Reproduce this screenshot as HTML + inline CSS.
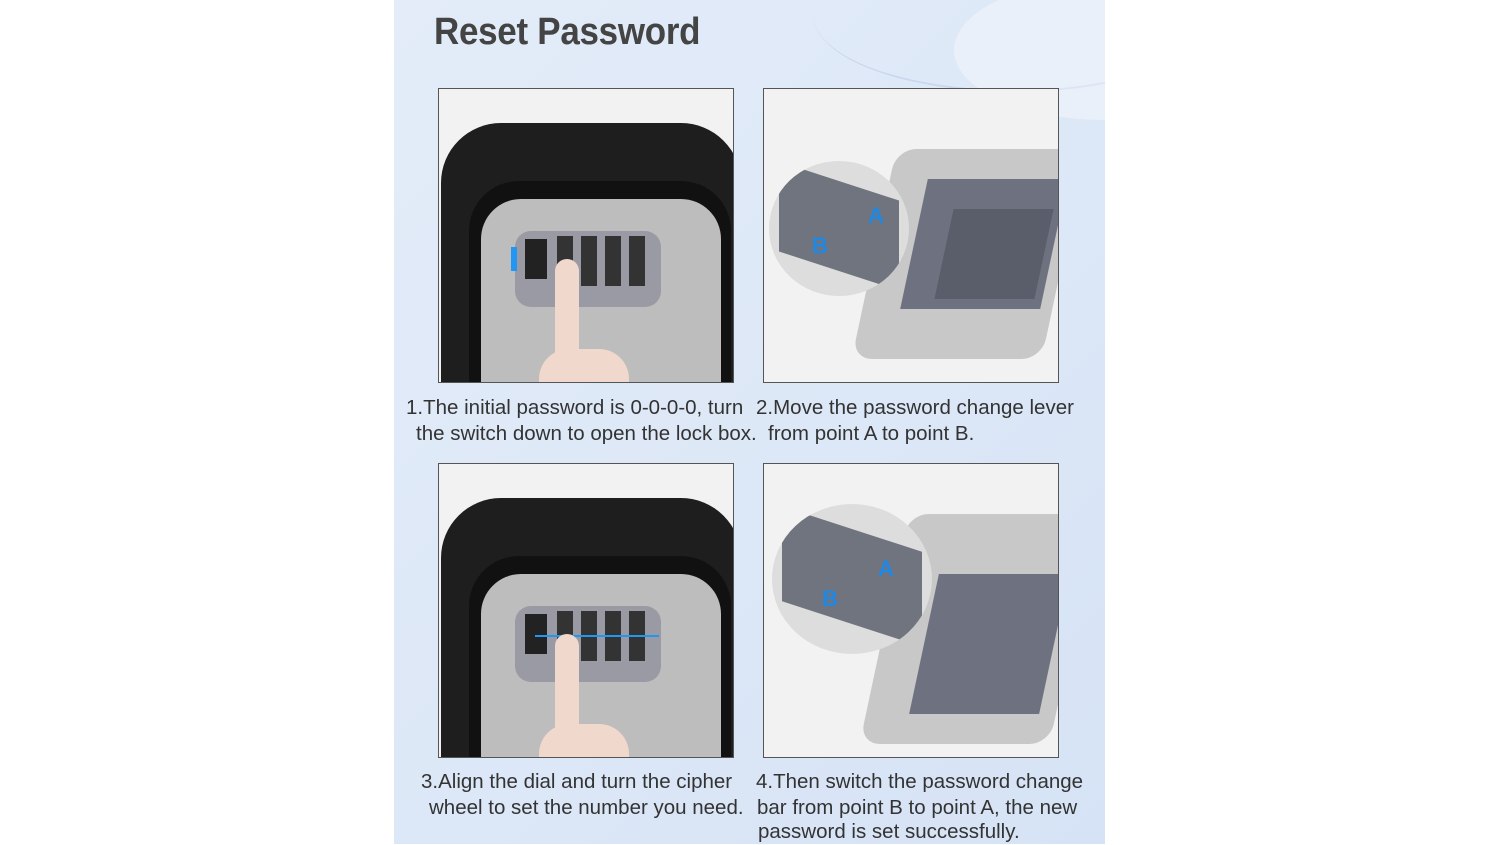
<!DOCTYPE html>
<html><head><style>
body{margin:0;width:1500px;height:844px;background:#fff;position:relative;overflow:hidden;font-family:"Liberation Sans",sans-serif}
.panel{position:absolute;left:394px;top:0;width:711px;height:844px;background:linear-gradient(135deg,#e3ecf8 0%,#dde8f7 50%,#d6e3f6 100%);overflow:hidden}
h1{position:absolute;left:434px;top:11px;margin:0;font-size:38px;font-weight:bold;color:#444;letter-spacing:-0.3px;transform:scaleX(0.92);transform-origin:left;white-space:nowrap}
.ph{position:absolute;width:294px;height:293px;border:1px solid #555;background:#f2f2f2;overflow:hidden}
.cap{position:absolute;font-size:20.5px;color:#333;line-height:26px;white-space:nowrap}
.a{position:absolute}
</style></head><body>
<div class="panel">
<div class="a" style="left:420px;top:-60px;width:400px;height:150px;border-radius:50%;border-bottom:2px solid #c9d8ee;"></div>
<div class="a" style="left:560px;top:-20px;width:300px;height:140px;border-radius:50%;background:rgba(255,255,255,.35)"></div>
</div>
<h1>Reset Password</h1>

<!-- photo 1 -->
<div class="ph" style="left:438px;top:88px">
 <div class="a" style="left:2px;top:34px;width:300px;height:300px;background:#1e1e1e;border-radius:60px 60px 0 0"></div>
 <div class="a" style="left:30px;top:92px;width:262px;height:260px;background:#111;border-radius:50px 50px 0 0"></div>
 <div class="a" style="left:42px;top:110px;width:240px;height:250px;background:#bdbdbd;border-radius:40px 40px 0 0"></div>
 <div class="a" style="left:76px;top:142px;width:146px;height:76px;background:#9a9aa5;border-radius:16px"></div>
 <div class="a" style="left:86px;top:150px;width:22px;height:40px;background:#222"></div>
 <div class="a" style="left:118px;top:147px;width:16px;height:50px;background:#333"></div>
 <div class="a" style="left:142px;top:147px;width:16px;height:50px;background:#333"></div>
 <div class="a" style="left:166px;top:147px;width:16px;height:50px;background:#333"></div>
 <div class="a" style="left:190px;top:147px;width:16px;height:50px;background:#333"></div>
 <div class="a" style="left:72px;top:158px;width:6px;height:24px;background:#2196f3"></div>
 <div class="a" style="left:116px;top:170px;width:24px;height:140px;background:#f1d8cc;border-radius:12px 12px 0 0"></div>
 <div class="a" style="left:100px;top:260px;width:90px;height:40px;background:#f1d8cc;border-radius:30px 30px 0 0"></div>
</div>
<!-- photo 2 -->
<div class="ph" style="left:763px;top:88px">
 <div class="a" style="left:110px;top:60px;width:190px;height:210px;background:#c8c8c8;border-radius:20px;transform:skewX(-12deg)"></div>
 <div class="a" style="left:150px;top:90px;width:140px;height:130px;background:#6e7280;transform:skewX(-12deg)"></div>
 <div class="a" style="left:180px;top:120px;width:100px;height:90px;background:#5a5e6a;transform:skewX(-12deg)"></div>
 <div class="a" style="left:5px;top:72px;width:140px;height:135px;border-radius:50%;background:#ddd;overflow:hidden">
  <div class="a" style="left:10px;top:20px;width:120px;height:90px;background:#70747f;transform:skewY(18deg)"></div>
 </div>
 <div class="a" style="left:104px;top:114px;font-size:22px;color:#1e88e5;font-weight:bold">A</div>
 <div class="a" style="left:48px;top:144px;font-size:22px;color:#1e88e5;font-weight:bold">B</div>
</div>
<div class="cap" style="left:406px;top:395px">1.The initial password is 0-0-0-0, turn</div>
<div class="cap" style="left:416px;top:421px">the switch down to open the lock box.</div>
<div class="cap" style="left:756px;top:395px">2.Move the password change lever</div>
<div class="cap" style="left:768px;top:421px">from point A to point B.</div>

<!-- photo 3 -->
<div class="ph" style="left:438px;top:463px">
 <div class="a" style="left:2px;top:34px;width:300px;height:300px;background:#1e1e1e;border-radius:60px 60px 0 0"></div>
 <div class="a" style="left:30px;top:92px;width:262px;height:260px;background:#111;border-radius:50px 50px 0 0"></div>
 <div class="a" style="left:42px;top:110px;width:240px;height:250px;background:#bdbdbd;border-radius:40px 40px 0 0"></div>
 <div class="a" style="left:76px;top:142px;width:146px;height:76px;background:#9a9aa5;border-radius:16px"></div>
 <div class="a" style="left:86px;top:150px;width:22px;height:40px;background:#222"></div>
 <div class="a" style="left:118px;top:147px;width:16px;height:50px;background:#333"></div>
 <div class="a" style="left:142px;top:147px;width:16px;height:50px;background:#333"></div>
 <div class="a" style="left:166px;top:147px;width:16px;height:50px;background:#333"></div>
 <div class="a" style="left:190px;top:147px;width:16px;height:50px;background:#333"></div>
 <div class="a" style="left:96px;top:171px;width:124px;height:2px;background:#2196f3"></div>
 <div class="a" style="left:116px;top:170px;width:24px;height:140px;background:#f1d8cc;border-radius:12px 12px 0 0"></div>
 <div class="a" style="left:100px;top:260px;width:90px;height:40px;background:#f1d8cc;border-radius:30px 30px 0 0"></div>
</div>
<!-- photo 4 -->
<div class="ph" style="left:763px;top:463px">
 <div class="a" style="left:120px;top:50px;width:190px;height:230px;background:#c8c8c8;border-radius:20px;transform:skewX(-12deg)"></div>
 <div class="a" style="left:160px;top:110px;width:130px;height:140px;background:#6e7280;transform:skewX(-12deg)"></div>
 <div class="a" style="left:8px;top:40px;width:160px;height:150px;border-radius:50%;background:#ddd;overflow:hidden">
  <div class="a" style="left:10px;top:25px;width:140px;height:95px;background:#70747f;transform:skewY(18deg)"></div>
 </div>
 <div class="a" style="left:114px;top:92px;font-size:22px;color:#1e88e5;font-weight:bold">A</div>
 <div class="a" style="left:58px;top:122px;font-size:22px;color:#1e88e5;font-weight:bold">B</div>
</div>
<div class="cap" style="left:421px;top:769px">3.Align the dial and turn the cipher</div>
<div class="cap" style="left:429px;top:795px">wheel to set the number you need.</div>
<div class="cap" style="left:756px;top:769px">4.Then switch the password change</div>
<div class="cap" style="left:757px;top:795px">bar from point B to point A, the new</div>
<div class="cap" style="left:758px;top:819px">password is set successfully.</div>
</body></html>
